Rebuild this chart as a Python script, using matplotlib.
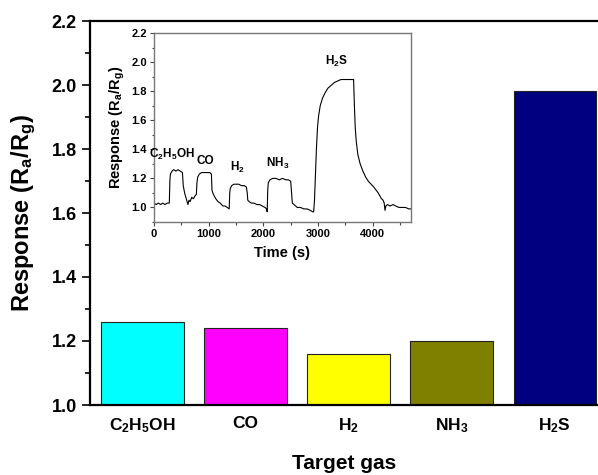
import matplotlib
matplotlib.use("Agg")
import matplotlib.pyplot as plt
from matplotlib.ticker import MultipleLocator

plt.rcParams['font.family'] = ['Liberation Sans', 'DejaVu Sans']
plt.rcParams['font.weight'] = 'bold'
plt.rcParams['mathtext.fontset'] = 'custom'
plt.rcParams['mathtext.rm'] = 'Liberation Sans:bold'
plt.rcParams['mathtext.it'] = 'Liberation Sans:bold'
plt.rcParams['mathtext.bf'] = 'Liberation Sans:bold'

# ---- data ----
gases = ['C$_2$H$_5$OH', 'CO', 'H$_2$', 'NH$_3$', 'H$_2$S']
responses = [1.26, 1.24, 1.16, 1.20, 1.98]
bar_colors = ['#00FFFF', '#FF00FF', '#FFFF00', '#808000', '#000080']

time_s = [0, 40, 80, 120, 160, 200, 240, 280, 290, 300, 330, 360, 400, 440, 480, 520,
          535, 560, 590, 620, 640, 660, 690, 720, 750, 775, 785, 800, 830, 870, 920,
          970, 1020, 1050, 1060, 1075, 1100, 1130, 1170, 1210, 1260, 1300, 1340, 1375,
          1385, 1395, 1420, 1460, 1500, 1550, 1600, 1650, 1690, 1705, 1715, 1740,
          1780, 1830, 1880, 1930, 1980, 2030, 2060, 2070, 2080, 2090, 2120, 2170,
          2230, 2290, 2350, 2410, 2460, 2500, 2515, 2530, 2560, 2620, 2680, 2740,
          2800, 2860, 2900, 2920, 2935, 2950, 2970, 2990, 3010, 3040, 3080, 3130,
          3180, 3240, 3300, 3360, 3420, 3480, 3540, 3600, 3650, 3665, 3680, 3700,
          3730, 3770, 3820, 3870, 3920, 3970, 4020, 4060, 4100, 4130, 4160, 4190,
          4210, 4225, 4240, 4270, 4320, 4370, 4420, 4480, 4540, 4600, 4660, 4700]
resp_curve = [1.03, 1.02, 1.03, 1.02, 1.03, 1.02, 1.03, 1.03, 1.18, 1.23, 1.25, 1.26, 1.25, 1.26, 1.25, 1.24,
              1.15, 1.10, 1.06, 1.02, 1.05, 1.04, 1.07, 1.06, 1.08, 1.09, 1.17, 1.21, 1.23, 1.24, 1.24,
              1.24, 1.24, 1.23, 1.12, 1.10, 1.08, 1.06, 1.04, 1.03, 1.01, 1.01, 1.00, 0.99,
              1.10, 1.13, 1.15, 1.16, 1.16, 1.16, 1.15, 1.15, 1.14, 1.10, 1.05, 1.04,
              1.03, 1.03, 1.02, 1.02, 1.01, 1.00, 0.99, 0.97, 1.12, 1.17, 1.19, 1.20,
              1.20, 1.19, 1.20, 1.19, 1.19, 1.18, 1.10, 1.03, 1.02, 1.00, 1.00, 0.99,
              0.99, 0.98, 0.97, 0.97, 1.05, 1.20, 1.40, 1.55, 1.63, 1.70, 1.75, 1.79,
              1.82, 1.84, 1.86, 1.87, 1.88, 1.88, 1.88, 1.88, 1.88, 1.70, 1.55, 1.45,
              1.36, 1.30, 1.25, 1.21, 1.18, 1.16, 1.14, 1.12, 1.10, 1.08, 1.06, 1.05,
              1.03, 0.98, 1.01, 1.02, 1.01, 1.02, 1.01, 1.00, 1.00, 1.00, 0.99, 0.99]

# ---- figure ----
fig = plt.figure(figsize=(5.98, 4.75), dpi=100)
ax = fig.add_axes([90/598, 1-405/475, (598-90)/598, (405-21)/475])

x = list(range(len(gases)))
ax.bar(x, responses, width=0.8, color=bar_colors, edgecolor='#222222', linewidth=0.8, bottom=0)
ax.set_ylim(1.0, 2.2)
ax.set_xlim(-0.51, 4.42)
ax.set_xticks(x)
ax.set_xticklabels(gases, fontsize=12.5, fontweight='bold')
ax.yaxis.set_major_locator(MultipleLocator(0.2))
ax.yaxis.set_minor_locator(MultipleLocator(0.1))
ax.tick_params(axis='y', which='major', direction='out', length=6, width=1.2, labelsize=13)
ax.tick_params(axis='y', which='minor', direction='out', length=3.5, width=1.2)
ax.tick_params(axis='x', which='major', length=0, pad=8)
for lab in ax.get_yticklabels():
    lab.set_fontweight('bold')
ax.spines['right'].set_visible(False)
for s in ['left', 'top', 'bottom']:
    ax.spines[s].set_linewidth(1.6)
ax.set_ylabel('Response (R$_a$/R$_g$)', fontsize=17, fontweight='bold', labelpad=10)
ax.set_xlabel('Target gas', fontsize=15, fontweight='bold', labelpad=14)

# ---- inset ----
ins = fig.add_axes([154/598, 1-222/475, (411-154)/598, (222-33)/475])
ins.plot(time_s, resp_curve, color='black', linewidth=0.8)
ins.set_xlim(0, 4700)
ins.set_ylim(0.9, 2.2)
ins.xaxis.set_major_locator(MultipleLocator(1000))
ins.xaxis.set_minor_locator(MultipleLocator(500))
ins.yaxis.set_major_locator(MultipleLocator(0.2))
ins.yaxis.set_minor_locator(MultipleLocator(0.1))
ins.tick_params(which='major', direction='out', length=3, width=0.8, labelsize=8, colors='#444444', labelcolor='black', pad=2)
ins.tick_params(which='minor', direction='out', length=1.8, width=0.8, colors='#444444')
for lab in ins.get_xticklabels() + ins.get_yticklabels():
    lab.set_fontweight('bold')
for s in ins.spines.values():
    s.set_color('#777777')
    s.set_linewidth(1.0)
ins.set_xlabel('Time (s)', fontsize=10.5, fontweight='bold', labelpad=5)
ins.set_ylabel('Response (R$_a$/R$_g$)', fontsize=10.5, fontweight='bold', labelpad=3)

ann = [('C$_2$H$_5$OH', 330, 1.31), ('CO', 930, 1.28), ('H$_2$', 1530, 1.22),
       ('NH$_3$', 2270, 1.25), ('H$_2$S', 3330, 1.95)]
for txt, tx, ty in ann:
    ins.text(tx, ty, txt, fontsize=8.5, fontweight='bold', ha='center', va='bottom')

fig.savefig('out.png', dpi=100)
